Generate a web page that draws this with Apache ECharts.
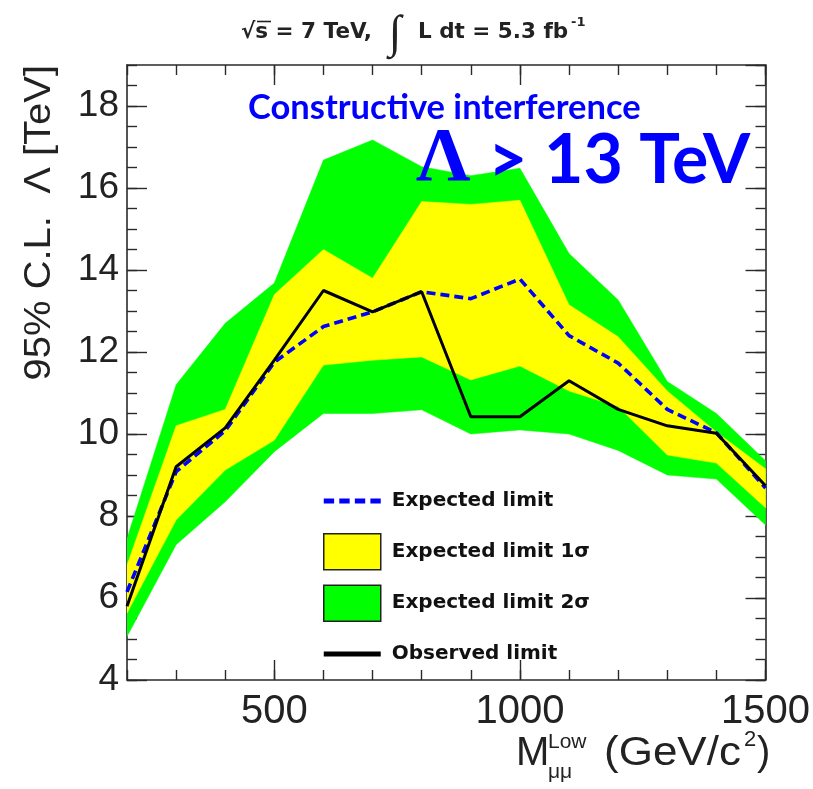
<!DOCTYPE html>
<html><head><meta charset="utf-8">
<script src="https://cdn.jsdelivr.net/npm/echarts@6/dist/echarts.min.js"></script>
<style>html,body{margin:0;padding:0;background:#fff}#c{width:813px;height:789px}</style>
</head><body><div id="c"></div>
<script>
// ---- data ----
const mass = [200, 300, 400, 500, 600, 700, 800, 900, 1000, 1100, 1200, 1300, 1400, 1500];
const observed = [5.8, 9.2, 10.15, 11.8, 13.5, 12.98, 13.47, 10.42, 10.42, 11.3, 10.6, 10.2, 10.02, 8.74];
const expected = [6.15, 9.08, 10.08, 11.75, 12.62, 12.98, 13.47, 13.3, 13.78, 12.4, 11.73, 10.6, 10.03, 8.68];
const sigma1High = [6.8, 10.2, 10.6, 13.4, 14.5, 13.8, 15.67, 15.6, 15.7, 13.15, 12.37, 11.05, 10.05, 9.15];
const sigma1Low = [5.63, 7.9, 9.12, 9.85, 11.68, 11.8, 11.88, 11.32, 11.66, 11.05, 10.67, 9.49, 9.29, 8.2];
const sigma2High = [7.45, 11.2, 12.7, 13.68, 16.68, 17.17, 16.52, 16.3, 16.48, 14.4, 13.27, 11.28, 10.5, 9.35];
const sigma2Low = [5.06, 7.3, 8.35, 9.57, 10.5, 10.5, 10.59, 10.0, 10.1, 10.0, 9.6, 9.0, 8.9, 7.78];
const xLabelValues = [500, 1000, 1500];
const legendNames = ['Expected limit', 'Expected limit 1\u03c3', 'Expected limit 2\u03c3', 'Observed limit'];

// ---- helpers ----
const pts = ys => mass.map((x, i) => [x, ys[i]]);

const AX = '#2a2a2a';
const FONT = '"Liberation Sans", Arial, sans-serif';
const hidden = { show: false };

function xAx(position, tickOpts, withLabels, withLine) {
  return {
    type: 'value', position, min: 200, max: 1500, interval: 100,
    axisLine: withLine ? { show: true, lineStyle: { color: AX, width: 1.6 } } : hidden,
    axisTick: Object.assign({ show: true, inside: true, lineStyle: { color: AX, width: 1.4 } }, tickOpts),
    axisLabel: withLabels ? { show: true, customValues: xLabelValues, formatter: v => String(v), fontFamily: FONT, fontSize: 40, color: '#222', margin: 12 } : hidden,
    splitLine: hidden
  };
}
function yAx(position, interval, len, withLabels, withLine) {
  return {
    type: 'value', position, min: 4, max: 19, interval,
    axisLine: withLine ? { show: true, lineStyle: { color: AX, width: 1.6 } } : hidden,
    axisTick: { show: true, inside: true, length: len, lineStyle: { color: AX, width: 1.4 } },
    axisLabel: withLabels ? { show: true, showMaxLabel: false, formatter: v => String(v), fontFamily: FONT, fontSize: 37, color: '#222', margin: 8 } : hidden,
    splitLine: hidden
  };
}

function bandSeries(name, hi, lo, color, z) {
  return {
    name, type: 'custom', z, silent: true, clip: true,
    itemStyle: { color },
    data: mass.map((x, i) => [x, lo[i], hi[i]]),
    encode: { x: 0, y: [1, 2] },
    renderItem: (params, api) => {
      if (params.dataIndex !== 0) return null;
      const up = mass.map((x, i) => api.coord([x, hi[i]]));
      const dn = mass.map((x, i) => api.coord([x, lo[i]])).reverse();
      return { type: 'polygon', shape: { points: up.concat(dn) }, style: { fill: color, stroke: color, lineWidth: 0.5 } };
    }
  };
}

const dashIcon = 'path://M0,0h10v5h-10z M15,0h10v5h-10z M30,0h10v5h-10z M45,0h10v5h-10z';
const solidIcon = 'path://M0,0h55v5h-55z';

const chart = echarts.init(document.getElementById('c'), null, { renderer: 'canvas' });
const option = {
  animation: false,
  backgroundColor: '#fff',
  grid: { left: 127, right: 45.5, top: 65, bottom: 109, containLabel: false },
  xAxis: [
    xAx('bottom', { length: 10 }, true, true),
    xAx('bottom', { length: 20, customValues: xLabelValues }, false, false),
    xAx('top', { length: 10 }, false, true),
    xAx('top', { length: 20, customValues: xLabelValues }, false, false)
  ],
  yAxis: [
    yAx('left', 2, 20, true, true),
    yAx('left', 0.5, 10, false, false),
    yAx('right', 2, 20, false, true),
    yAx('right', 0.5, 10, false, false)
  ],
  legend: {
    orient: 'vertical', left: 323, top: 483, padding: 0,
    itemWidth: 57, itemHeight: 36, itemGap: 14,
    selectedMode: false, symbolKeepAspect: true,
    textStyle: { fontFamily: '"DejaVu Sans", sans-serif', fontWeight: 'bold', fontSize: 20, lineHeight: 36, color: '#111', padding: [0, 0, 0, 6] },
    data: [
      { name: legendNames[0], icon: dashIcon, itemStyle: { color: '#0000ff', borderWidth: 0 } },
      { name: legendNames[1], icon: 'rect', itemStyle: { color: '#ffff00', borderColor: '#222', borderWidth: 1.5 } },
      { name: legendNames[2], icon: 'rect', itemStyle: { color: '#00ff00', borderColor: '#222', borderWidth: 1.5 } },
      { name: legendNames[3], icon: solidIcon, itemStyle: { color: '#000', borderWidth: 0 } }
    ]
  },
  series: [
    bandSeries(legendNames[2], sigma2High, sigma2Low, '#00ff00', 1),
    bandSeries(legendNames[1], sigma1High, sigma1Low, '#ffff00', 2),
    { name: legendNames[0], type: 'line', data: pts(expected), symbol: 'none', silent: true,
      color: '#0000ff', lineStyle: { color: '#0000ff', width: 3.6, type: [9, 5] }, z: 3 },
    { name: legendNames[3], type: 'line', data: pts(observed), symbol: 'none', silent: true,
      color: '#000', lineStyle: { color: '#000', width: 3 }, z: 4 }
  ],
  graphic: [
    // top caption
    { type: 'text', x: 241, y: 32, style: { text: '\u221as = 7 TeV,', font: 'bold 21.5px "DejaVu Sans", sans-serif', fill: '#222', align: 'left', verticalAlign: 'middle' } },
    { type: 'line', shape: { x1: 257, y1: 21.5, x2: 271, y2: 21.5 }, style: { stroke: '#222', lineWidth: 1.6 } },
    { type: 'text', x: 395, y: 35, style: { text: '\u222b', font: '46px "Liberation Serif", serif', fill: '#222', align: 'center', verticalAlign: 'middle' } },
    { type: 'text', x: 418, y: 32, style: { text: 'L dt = 5.3 fb', font: 'bold 21.5px "DejaVu Sans", sans-serif', fill: '#222', align: 'left', verticalAlign: 'middle' } },
    { type: 'text', x: 571, y: 23, style: { text: '-1', font: 'bold 13px "DejaVu Sans", sans-serif', fill: '#222', align: 'left', verticalAlign: 'middle' } },
    // y axis title
    { type: 'text', x: 40, y: 65, rotation: Math.PI / 2, scaleX: 1.08, style: { text: '95% C.L.  \u039b [TeV]', font: '37px ' + FONT, fill: '#222', align: 'right', verticalAlign: 'middle' } },
    // x axis title
    { type: 'text', x: 516, y: 754, style: { text: 'M', font: '40px ' + FONT, fill: '#222', align: 'left', verticalAlign: 'middle' } },
    { type: 'text', x: 548, y: 742, style: { text: 'Low', font: '21px ' + FONT, fill: '#222', align: 'left', verticalAlign: 'middle' } },
    { type: 'text', x: 548, y: 772, style: { text: '\u03bc\u03bc', font: '21px ' + FONT, fill: '#222', align: 'left', verticalAlign: 'middle' } },
    { type: 'text', x: 604, y: 754, scaleX: 1.1, style: { text: '(GeV/c', font: '40px ' + FONT, fill: '#222', align: 'left', verticalAlign: 'middle' } },
    { type: 'text', x: 744, y: 740, style: { text: '2', font: '22px ' + FONT, fill: '#222', align: 'left', verticalAlign: 'middle' } },
    { type: 'text', x: 757, y: 754, style: { text: ')', font: '40px ' + FONT, fill: '#222', align: 'left', verticalAlign: 'middle' } },
    // annotations
    { type: 'text', x: 248, y: 108, z: 10, style: { text: 'Constructive interference', font: 'bold 34.5px Lato, "Open Sans", sans-serif', fill: '#0000ff', align: 'left', verticalAlign: 'middle' } },
    { type: 'text', x: 416, y: 160, z: 10, style: { text: '\u039b', font: 'bold 76px "Liberation Serif", serif', fill: '#0000ff', align: 'left', verticalAlign: 'middle' } },
    { type: 'text', x: 488, y: 161, z: 10, style: { text: '> 13 TeV', font: 'bold 68px Lato, "Open Sans", sans-serif', fill: '#0000ff', align: 'left', verticalAlign: 'middle' } }
  ]
};
chart.setOption(option);
</script>
</body></html>
